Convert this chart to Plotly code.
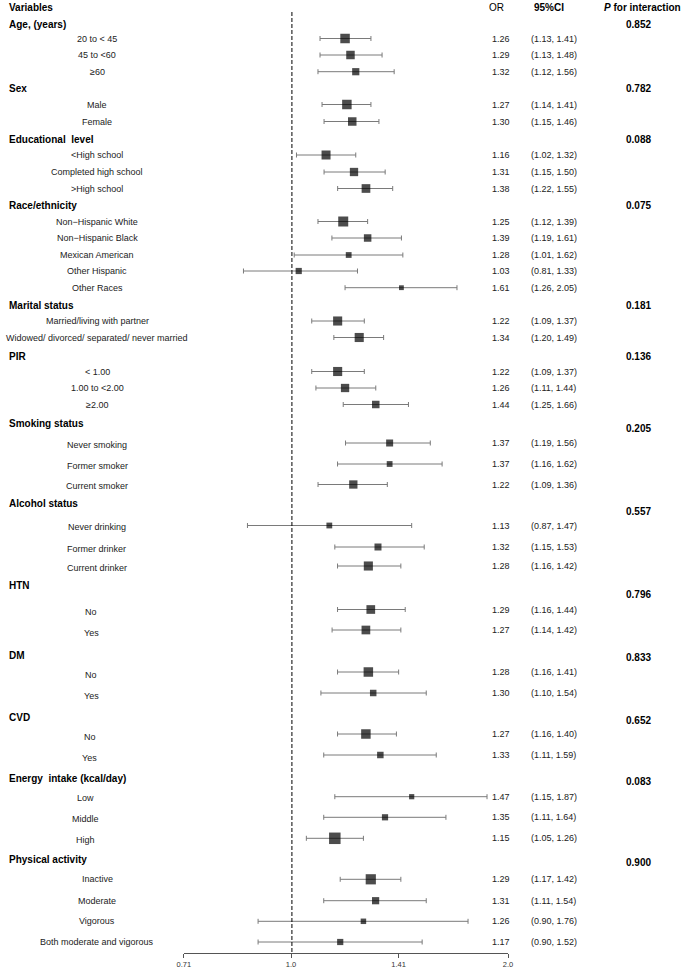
import math
import plotly.graph_objects as go

# ---------------- data ----------------
group_names = ["Age, (years)", "Sex", "Educational\u00a0 level", "Race/ethnicity", "Marital status", "PIR",
               "Smoking status", "Alcohol status", "HTN", "DM", "CVD",
               "Energy\u00a0 intake (kcal/day)", "Physical activity"]
p_interaction = ["0.852", "0.782", "0.088", "0.075", "0.181", "0.136",
                 "0.205", "0.557", "0.796", "0.833", "0.652", "0.083", "0.900"]

subgroup_labels = [
    ["20 to < 45", "45 to <60", "≥60"],
    ["Male", "Female"],
    ["<High school", "Completed high school", ">High school"],
    ["Non−Hispanic White", "Non−Hispanic Black", "Mexican American", "Other Hispanic", "Other Races"],
    ["Married/living with partner", "Widowed/ divorced/ separated/ never married"],
    ["< 1.00", "1.00 to <2.00", "≥2.00"],
    ["Never smoking", "Former smoker", "Current smoker"],
    ["Never drinking", "Former drinker", "Current drinker"],
    ["No", "Yes"],
    ["No", "Yes"],
    ["No", "Yes"],
    ["Low", "Middle", "High"],
    ["Inactive", "Moderate", "Vigorous", "Both moderate and vigorous"],
]
odds_ratio = [
    [1.26, 1.29, 1.32], [1.27, 1.30], [1.16, 1.31, 1.38],
    [1.25, 1.39, 1.28, 1.03, 1.61], [1.22, 1.34], [1.22, 1.26, 1.44],
    [1.37, 1.37, 1.22], [1.13, 1.32, 1.28], [1.29, 1.27], [1.28, 1.30],
    [1.27, 1.33], [1.47, 1.35, 1.15], [1.29, 1.31, 1.26, 1.17],
]
ci_lower = [
    [1.13, 1.13, 1.12], [1.14, 1.15], [1.02, 1.15, 1.22],
    [1.12, 1.19, 1.01, 0.81, 1.26], [1.09, 1.20], [1.09, 1.11, 1.25],
    [1.19, 1.16, 1.09], [0.87, 1.15, 1.16], [1.16, 1.14], [1.16, 1.10],
    [1.16, 1.11], [1.15, 1.11, 1.05], [1.17, 1.11, 0.90, 0.90],
]
ci_upper = [
    [1.41, 1.48, 1.56], [1.41, 1.46], [1.32, 1.50, 1.55],
    [1.39, 1.61, 1.62, 1.33, 2.05], [1.37, 1.49], [1.37, 1.44, 1.66],
    [1.56, 1.62, 1.36], [1.47, 1.53, 1.42], [1.44, 1.42], [1.41, 1.54],
    [1.40, 1.59], [1.87, 1.64, 1.26], [1.42, 1.54, 1.76, 1.52],
]
axis_tick_values = [0.71, 1.0, 1.41, 2.0]
axis_tick_labels = ["0.71", "1.0", "1.41", "2.0"]

# ---------------- layout / style ----------------
W, H = 685, 969
SANS = "Liberation Sans, Arial, sans-serif"

# the upper block (Age .. PIR) was drawn on its own (hidden) x scale
TOP_GROUPS = 6
top_range = [math.log10(0.625), math.log10(2.56)]
bottom_range = [math.log10(0.71), math.log10(2.0)]
x_dom = [180 / W, 510 / W]

header_y = [24, 88, 139, 205, 305, 356, 423.5, 503.5, 585, 655, 717, 778, 859]
p_y = [24, 88, 139, 205, 305, 356, 428, 511, 594, 657, 720, 781, 862]
sub_y = [[38.5, 55, 71.7], [104.5, 121.5], [155, 172, 188.5],
         [221.5, 238, 255, 271, 287.7], [321, 337.5], [371.5, 388, 404.5],
         [443, 464, 484.5], [525.5, 547, 566], [609.5, 630], [672, 693],
         [734, 755], [796.7, 817.3, 838.3], [879.3, 900.7, 921.3, 942]]
label_dy = [0, 0, 0, 0, 0, 0, 1.5, 1.5, 2.5, 2.5, 2.5, 1.5, 0]
label_cx = [92, 92, 92, 92, 92, 92, 92, 91.5, 86, 86, 84, 80, 92]
box_px = [[9.5, 8.5, 7.2], [9.5, 8.5], [9, 8.3, 8.7], [10, 7.5, 5.8, 6.2, 4.8],
          [9.1, 9.1], [9.1, 8.3, 7.5], [7, 5.8, 8.3], [5.8, 7, 9.1],
          [8.7, 8.7], [9.5, 6.5], [9.5, 6.5], [5.2, 6.2, 11.5], [10.2, 7.2, 5.5, 6.2]]

fig = go.Figure()
annotations = []


def ann(text, x_px, y, size, anchor="left", color="black"):
    annotations.append(dict(text=text, x=x_px / W, xref="paper", y=y, yref="y",
                            xanchor=anchor, yanchor="middle", showarrow=False,
                            font=dict(size=size, family=SANS, color=color)))


# header row
ann("<b>Variables</b>", 0, 7, 10)
ann("OR", 498, 7, 10, "center")
ann("<b>95%CI</b>", 552, 7, 10, "center")
ann("<b><i>P</i> for interaction</b>", 647, 7, 10, "center")

for section in ("top", "bottom"):
    xs, ys, plus, minus, sizes = [], [], [], [], []
    for g in range(len(group_names)):
        if (g < TOP_GROUPS) != (section == "top"):
            continue
        for i in range(len(subgroup_labels[g])):
            o, lo, hi = odds_ratio[g][i], ci_lower[g][i], ci_upper[g][i]
            xs.append(o)
            ys.append(sub_y[g][i])
            plus.append(hi - o)
            minus.append(o - lo)
            sizes.append(box_px[g][i])
    fig.add_trace(go.Scatter(
        x=xs, y=ys, mode="markers",
        xaxis="x" if section == "top" else "x2", yaxis="y",
        marker=dict(symbol="square", color="black", size=sizes, line=dict(width=0)),
        error_x=dict(type="data", symmetric=False, array=plus, arrayminus=minus,
                     color="#7a7a7a", thickness=1, width=2.5),
        showlegend=False, hoverinfo="skip", cliponaxis=False,
    ))

for g, name in enumerate(group_names):
    ann("<b>%s</b>" % name, 0, header_y[g], 10)
    ann("<b>%s</b>" % p_interaction[g], 643, p_y[g], 10, "center")
    for i, lab in enumerate(subgroup_labels[g]):
        y = sub_y[g][i]
        ann(lab, label_cx[g], y + label_dy[g], 9, "center", "#222")
        ann("%.2f" % odds_ratio[g][i], 492, y, 9, "left", "#222")
        ann("(%.2f, %.2f)" % (ci_lower[g][i], ci_upper[g][i]), 531, y, 9, "left", "#222")

fig.add_shape(type="line", xref="x", yref="y", x0=1, x1=1, y0=12, y1=953,
              line=dict(color="black", width=1, dash="4px,2px"))

fig.update_layout(
    width=W, height=H,
    margin=dict(l=0, r=0, t=0, b=0),
    paper_bgcolor="white", plot_bgcolor="rgba(0,0,0,0)",
    annotations=annotations,
    xaxis=dict(type="log", range=top_range, domain=x_dom, visible=False,
               anchor="y", fixedrange=True),
    xaxis2=dict(type="log", range=bottom_range, domain=x_dom, overlaying="x",
                anchor="free", position=16 / H, showline=True, linecolor="#555",
                linewidth=1, ticks="outside", ticklen=4, tickcolor="#555",
                tickvals=axis_tick_values, ticktext=axis_tick_labels,
                tickfont=dict(size=7.5, family=SANS, color="#333"),
                showgrid=False, zeroline=False, fixedrange=True),
    yaxis=dict(range=[H, 0], domain=[0, 1], visible=False, fixedrange=True),
)

fig.write_html("out.html",
               config={"displayModeBar": False},
               post_script="document.body.style.margin='0';document.body.style.padding='0';"
                           "document.body.style.overflow='hidden';")
